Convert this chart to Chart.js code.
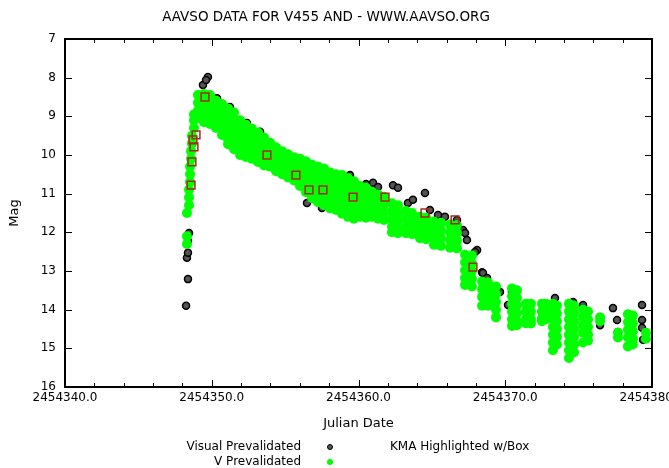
<!DOCTYPE html>
<html><head><meta charset="utf-8">
<script src="https://cdn.jsdelivr.net/npm/chart.js@4.4.1/dist/chart.umd.min.js"></script>
<style>html,body{margin:0;padding:0;background:#fff}#wrap{width:669px;height:468px;position:relative}canvas{display:block}</style>
</head><body><div id="wrap"><canvas id="c" width="669" height="468"></canvas></div>
<script>
const JD0 = 2454000;
const titleText = 'AAVSO DATA FOR V455 AND - WWW.AAVSO.ORG';
const xTitle = 'Julian Date';
const yTitle = 'Mag';
const xRange = [2454340, 2454380];
const xMajorStep = 10;
const xMinorStep = 2;
const yRange = [7, 16];
const legendLabels = ['Visual Prevalidated', 'KMA Highlighted w/Box', 'V Prevalidated'];

// Visual prevalidated (JD - 2454000, magnitude)
const visTimes = [348.25,348.38,348.31,348.38,348.38,348.45,349.40,349.74,349.61,350.36,350.29,351.24,351.45,352.40,352.40,353.29,353.29,354.45,355.20,356.49,357.51,358.47,356.49,357.51,358.40,359.42,360.51,360.99,361.33,362.35,362.69,364.53,363.37,363.71,364.87,365.42,365.89,366.71,367.12,367.39,368.08,368.42,359.76,367.26,367.94,368.48,368.76,369.64,370.46,370.19,373.39,374.62,375.30,377.34,376.46,376.46,377.62,377.68,379.32,379.32,379.39,379.32];
const visMags  = [13.90,13.21,12.66,12.53,12.22,12.02,8.19,7.98,8.06,8.53,8.66,8.76,8.91,9.17,9.35,9.40,9.61,10.00,10.13,10.31,10.47,10.57,11.24,11.37,10.65,10.52,10.75,10.72,10.83,10.78,10.85,10.98,11.24,11.16,11.42,11.55,11.60,11.68,11.94,12.20,12.46,13.03,11.63,12.02,12.51,13.05,13.18,13.54,13.54,13.88,13.70,13.80,13.88,13.96,14.19,14.40,14.27,14.58,13.88,14.27,14.78,14.47];

// KMA observations highlighted with a box
const kmaTimes = [349.54,348.93,348.72,348.79,348.65,348.59,353.76,355.74,356.63,357.58,359.63,361.81,364.53,366.58,367.80];
const kmaMags  = [8.50,9.48,9.61,9.79,10.18,10.78,10.00,10.52,10.90,10.90,11.09,11.09,11.50,11.68,12.90];

// V prevalidated: time of each run and the magnitudes read in it
const vTimes = [348.31,348.45,348.52,348.59,348.65,348.79,349.06,349.47,349.88,350.29,350.70,351.11,351.52,351.93,352.33,352.74,353.15,353.56,353.97,354.38,354.79,355.20,355.61,356.01,356.42,356.83,357.24,357.65,358.06,358.47,358.88,359.28,359.69,360.10,360.51,360.92,361.33,361.74,362.28,362.69,363.24,363.65,364.19,364.60,365.14,365.62,366.24,366.71,367.26,367.73,368.42,368.83,369.37,370.46,370.80,371.41,371.75,372.50,372.78,373.25,373.52,374.34,374.69,375.30,375.64,376.46,377.68,378.36,378.70,379.59];
const vMags = [
 [11.5,12.1,12.3],[10.9,11.1,11.3],[10.3,10.5,10.7],[9.9,10.1],[9.5,9.7],[8.95,9.1,9.3],
 [8.45,8.65,8.85,9.05],[8.42,8.6,8.8,9.0,9.15],[8.45,8.65,8.85,9.05,9.2],[8.6,8.8,9.0,9.2,9.3],
 [8.68,8.88,9.08,9.28,9.48],[8.8,9.0,9.2,9.4,9.6,9.72],[8.9,9.1,9.3,9.5,9.7,9.85],[9.1,9.3,9.5,9.7,9.9,10.0],
 [9.22,9.42,9.62,9.82,10.05],[9.32,9.52,9.72,9.92,10.1],[9.42,9.62,9.82,10.02,10.18],[9.55,9.75,9.95,10.15,10.27],
 [9.68,9.88,10.08,10.3],[9.8,10.0,10.2,10.42],[9.9,10.1,10.3,10.5],[9.98,10.18,10.38,10.58],
 [10.06,10.26,10.46,10.66],[10.1,10.3,10.5,10.7,10.8],[10.16,10.36,10.56,10.76,10.96],[10.25,10.45,10.65,10.85,11.05,11.12],
 [10.3,10.5,10.7,10.9,11.1,11.22],[10.35,10.55,10.75,10.95,11.15,11.3],[10.45,10.65,10.85,11.05,11.25,11.38],[10.5,10.7,10.9,11.1,11.3,11.42],
 [10.52,10.72,10.92,11.12,11.32,11.52],[10.6,10.8,11.0,11.2,11.4,11.6],[10.68,10.88,11.08,11.28,11.48,11.65],[10.8,11.0,11.2,11.4,11.6],
 [10.85,11.05,11.25,11.45,11.62],[10.95,11.15,11.35,11.6],[11.02,11.22,11.42,11.65],[11.08,11.28,11.48,11.68],
 [11.25,11.45,11.65,11.85,12.0],[11.3,11.5,11.7,11.9,12.02],[11.45,11.65,11.85,12.02],[11.5,11.7,11.9,12.05],
 [11.6,11.8,12.0,12.15],[11.62,11.82,12.02,12.18],[11.72,11.92,12.12,12.32],[11.75,11.95,12.15,12.35],
 [11.8,12.0,12.2,12.4],[11.82,12.02,12.22,12.42],[12.58,12.78,12.98,13.18,13.36],[12.6,12.8,13.0,13.2,13.4],
 [13.27,13.47,13.67,13.9],[13.3,13.5,13.7,13.9],[13.4,13.6,13.8,14.0,14.2],[13.45,13.65,13.85,14.05,14.25,14.42],
 [13.5,13.7,13.9,14.1,14.3,14.4],[13.85,14.05,14.25,14.35],[13.85,14.05,14.25,14.36],[13.85,14.05,14.22,14.3],
 [13.85,14.05,14.25],[13.85,14.05,14.25,14.45,14.65,14.85,15.05],[13.9,14.1,14.3,14.5,14.7,14.9],
 [13.85,14.05,14.25,14.45,14.65,14.85,15.05,15.25],[13.9,14.1,14.3,14.5,14.7,14.9,15.1],
 [14.0,14.2,14.4,14.6,14.85],[14.05,14.25,14.45,14.65,14.8],[14.2,14.3],[14.6,14.72],
 [14.12,14.32,14.52,14.72,14.95],[14.15,14.35,14.55,14.75,14.9],[14.6,14.75]
];

const visPoints = visTimes.map((t, i) => ({x: JD0 + t, y: visMags[i]}));
const kmaPoints = kmaTimes.map((t, i) => ({x: JD0 + t, y: kmaMags[i]}));
const vPoints = [];
vTimes.forEach((t, i) => vMags[i].forEach(m => vPoints.push({x: JD0 + t, y: m})));

const FONT = 'DejaVu Sans';

const framePlugin = {
  id: 'frame',
  afterDatasetsDraw(chart) {
    const {ctx, chartArea: a, scales: {x, y}} = chart;
    ctx.save();
    ctx.strokeStyle = '#000';
    ctx.lineWidth = 1;
    ctx.beginPath();
    for (let d = xRange[0]; d <= xRange[1]; d += xMinorStep) {
      const px = Math.round(x.getPixelForValue(d)) + 0.5;
      const len = ((d - xRange[0]) % xMajorStep === 0) ? 7 : 4;
      ctx.moveTo(px, a.bottom); ctx.lineTo(px, a.bottom - len);
      ctx.moveTo(px, a.top); ctx.lineTo(px, a.top + len);
    }
    for (let m = yRange[0]; m <= yRange[1]; m++) {
      const py = Math.round(y.getPixelForValue(m)) + 0.5;
      ctx.moveTo(a.left, py); ctx.lineTo(a.left + 7, py);
      ctx.moveTo(a.right, py); ctx.lineTo(a.right - 7, py);
    }
    ctx.stroke();
    ctx.lineWidth = 2;
    ctx.strokeRect(a.left, a.top, a.right - a.left, a.bottom - a.top);
    ctx.restore();
  },
  afterDraw(chart) {
    const ctx = chart.ctx;
    ctx.save();
    ctx.font = '12px "' + FONT + '"';
    ctx.fillStyle = '#000';
    ctx.textBaseline = 'middle';
    ctx.textAlign = 'right';
    ctx.fillText(legendLabels[0], 301, 447);
    ctx.fillText(legendLabels[2], 301, 462);
    ctx.textAlign = 'left';
    ctx.fillText(legendLabels[1], 390, 447);
    ctx.beginPath(); ctx.arc(330, 447, 2.5, 0, Math.PI * 2);
    ctx.fillStyle = '#555'; ctx.fill(); ctx.strokeStyle = '#000'; ctx.lineWidth = 1; ctx.stroke();
    ctx.beginPath(); ctx.arc(330, 462, 3, 0, Math.PI * 2);
    ctx.fillStyle = '#00ff00'; ctx.fill();
    ctx.restore();
  }
};

new Chart(document.getElementById('c'), {
  type: 'scatter',
  data: {
    datasets: [
      {label: legendLabels[1], data: kmaPoints, pointStyle: 'rect', pointRadius: 5.5, borderColor: '#a8281c', borderWidth: 1.5, backgroundColor: 'rgba(0,0,0,0)'},
      {label: legendLabels[2], data: vPoints, pointStyle: 'circle', pointRadius: 5, borderWidth: 0, backgroundColor: '#00ff00', borderColor: '#00ff00'},
      {label: legendLabels[0], data: visPoints, pointStyle: 'circle', pointRadius: 3.5, borderWidth: 1.5, backgroundColor: '#555', borderColor: '#000'}
    ]
  },
  options: {
    responsive: false,
    animation: false,
    devicePixelRatio: 1,
    events: [],
    layout: {padding: {left: 0, right: 17, top: 0, bottom: 0}},
    plugins: {
      legend: {display: false},
      tooltip: {enabled: false},
      title: {display: true, text: titleText, color: '#000', font: {family: FONT, size: 13.5, weight: 'normal'}, padding: {top: 9, bottom: 13.8}}
    },
    scales: {
      x: {
        type: 'linear', position: 'bottom', min: xRange[0], max: xRange[1],
        grid: {display: false, drawTicks: false}, border: {display: false},
        ticks: {stepSize: xMajorStep, autoSkip: false, maxRotation: 0, padding: 4, color: '#000', font: {family: FONT, size: 12}, callback: v => Number(v).toFixed(1)},
        title: {display: true, text: xTitle, color: '#000', font: {family: FONT, size: 13}, padding: {top: 0, bottom: 37}},
        afterFit: s => { s.height = 81; s.paddingLeft = 0; s.paddingRight = 0; }
      },
      y: {
        type: 'linear', reverse: true, min: yRange[0], max: yRange[1],
        grid: {display: false, drawTicks: false}, border: {display: false},
        ticks: {stepSize: 1, padding: 9, color: '#000', font: {family: FONT, size: 12}},
        title: {display: true, text: yTitle, color: '#000', font: {family: FONT, size: 13}, padding: {top: 7, bottom: 0}},
        afterFit: s => { s.width = 65; }
      }
    }
  },
  plugins: [framePlugin]
});
</script></body></html>
